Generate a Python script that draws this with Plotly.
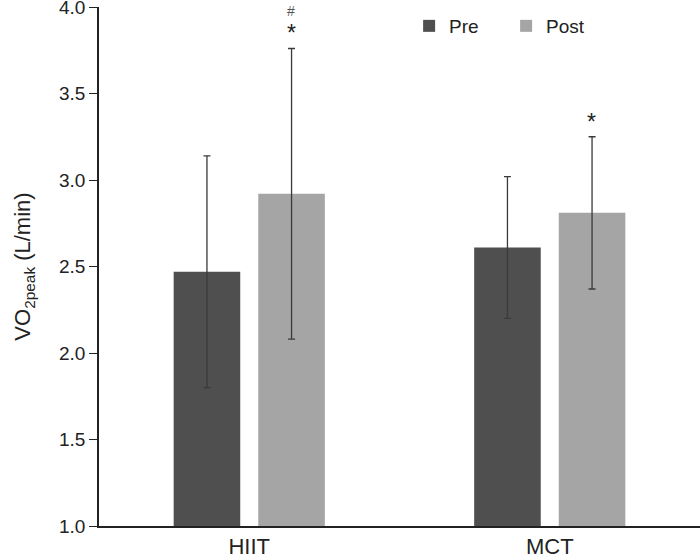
import plotly.graph_objects as go

groups = ["HIIT", "MCT"]
pre_vals = [2.47, 2.61]
pre_err = [0.67, 0.41]
post_vals = [2.92, 2.81]
post_err = [0.84, 0.44]
y_ticks = [1.0, 1.5, 2.0, 2.5, 3.0, 3.5, 4.0]

PRE_COLOR = "#4f4f4f"
POST_COLOR = "#a5a5a5"
TXT = "#222222"
FONT = "Liberation Sans, Arial, sans-serif"

fig = go.Figure()
fig.add_trace(go.Bar(
    name="Pre", x=groups, y=pre_vals, marker=dict(color=PRE_COLOR, line=dict(width=0)),
    error_y=dict(type="data", array=pre_err, visible=True, color="#3a3a3a", thickness=1.3, width=3.5),
))
fig.add_trace(go.Bar(
    name="Post", x=groups, y=post_vals, marker=dict(color=POST_COLOR, line=dict(width=0)),
    error_y=dict(type="data", array=post_err, visible=True, color="#3a3a3a", thickness=1.3, width=3.5),
))

# significance markers above the Post bars
fig.add_annotation(x="HIIT", y=post_vals[0] + post_err[0], text="*", showarrow=False,
                   xshift=42, yshift=16, font=dict(size=23, color=TXT, family=FONT))
fig.add_annotation(x="HIIT", y=post_vals[0] + post_err[0], text="#", showarrow=False,
                   xshift=42, yshift=38, font=dict(size=14, color="#555555", family=FONT))
fig.add_annotation(x="MCT", y=post_vals[1] + post_err[1], text="*", showarrow=False,
                   xshift=42, yshift=15, font=dict(size=23, color=TXT, family=FONT))

fig.update_layout(
    width=700, height=558,
    margin=dict(l=99, r=0, t=7, b=32, autoexpand=False),
    paper_bgcolor="white", plot_bgcolor="white",
    font=dict(family=FONT, size=19, color=TXT),
    barmode="group", bargap=0.437, bargroupgap=0.213,
    showlegend=True,
    legend=dict(orientation="h", x=0.516, xanchor="left", y=1.0, yanchor="top",
                font=dict(size=19, color=TXT), bgcolor="rgba(0,0,0,0)",
                entrywidth=52, itemsizing="constant"),
    xaxis=dict(showline=True, linecolor="#222222", linewidth=1.5, ticks="",
               tickfont=dict(size=22, color=TXT), range=[-0.5, 1.5], automargin=False),
    yaxis=dict(range=[1.0, 4.0], tickvals=y_ticks, ticktext=[f"{v:.1f}" for v in y_ticks],
               showline=True, linecolor="#222222", linewidth=1.5, ticks="outside",
               ticklen=8, tickcolor="#222222", showgrid=False, zeroline=False,
               tickfont=dict(size=19, color=TXT), ticklabeloverflow="allow", automargin=False,
               title=dict(text="VO<sub>2peak</sub> (L/min)", font=dict(size=22, color=TXT), standoff=22)),
)

fig.write_html("out.html", config={"displayModeBar": False},
               post_script="document.body.style.margin='0';document.body.style.overflow='hidden';")
